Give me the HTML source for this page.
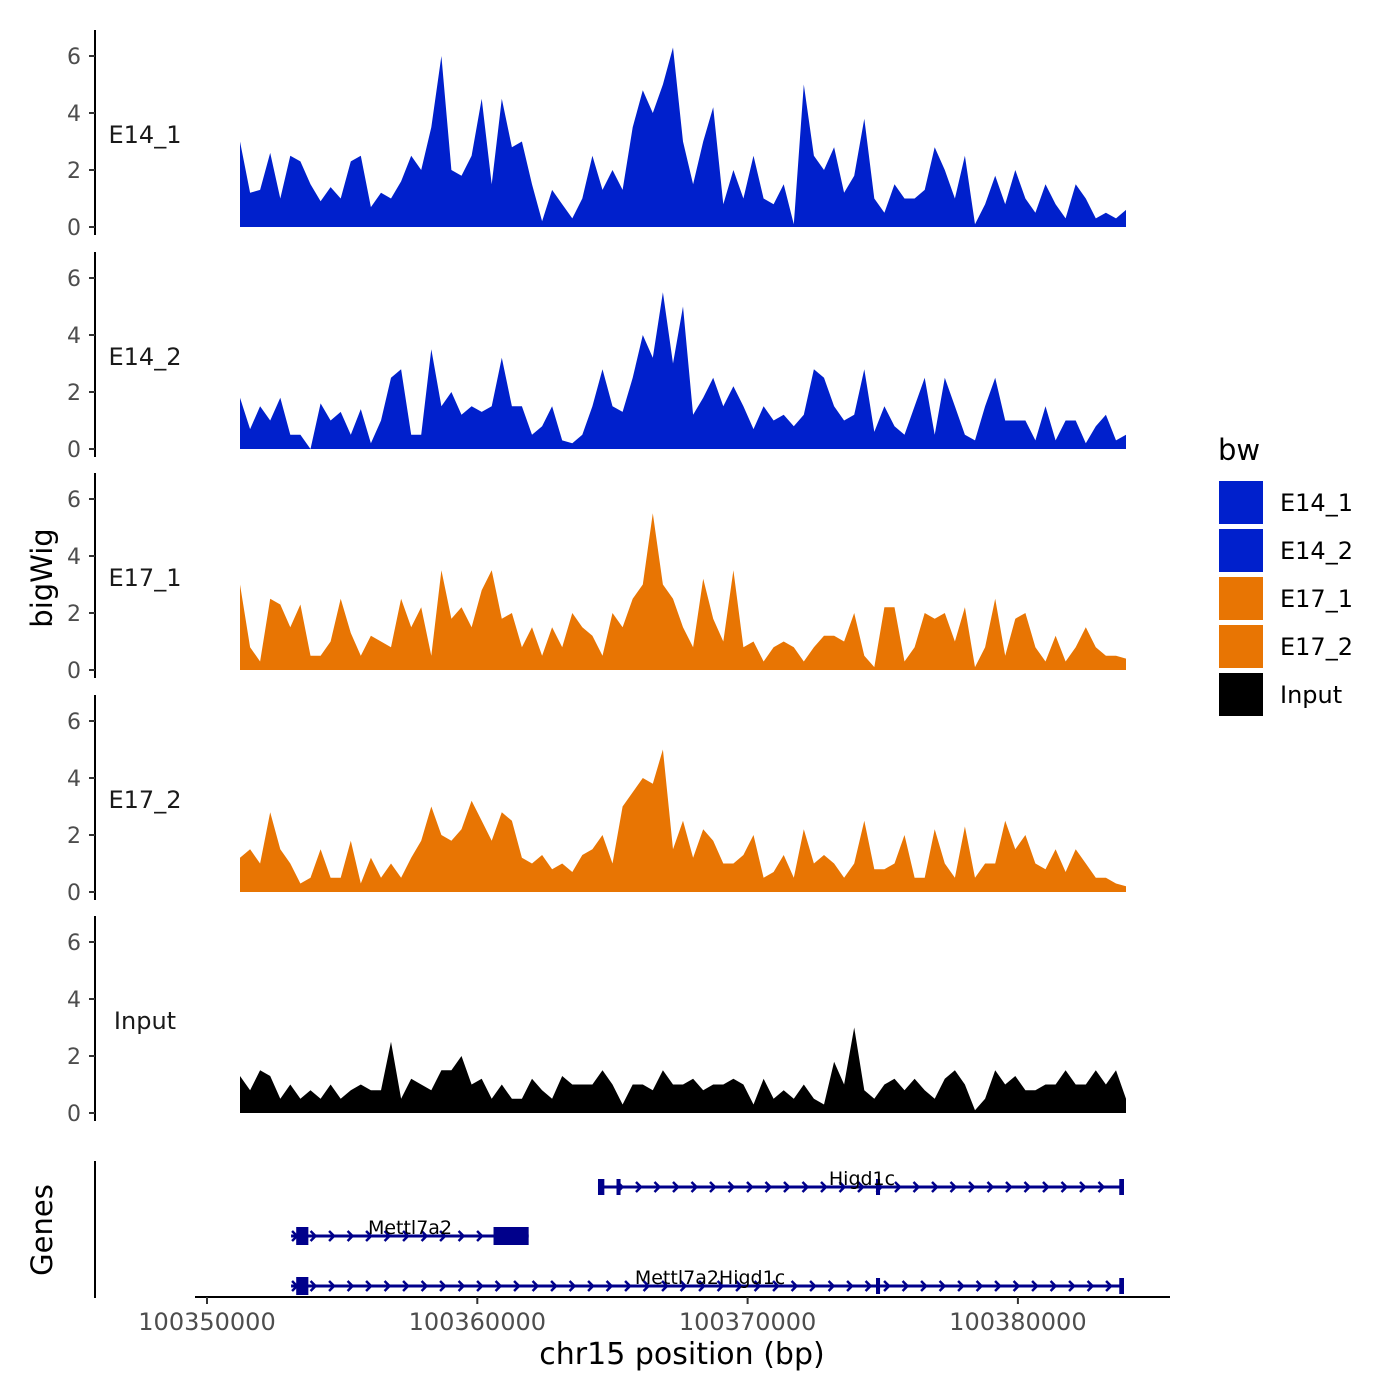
<!DOCTYPE html>
<html><head><meta charset="utf-8"><style>
html,body{margin:0;padding:0;background:#fff}
svg{display:block;font-family:"DejaVu Sans","Liberation Sans",sans-serif}
</style></head><body>
<svg id="c" width="1400" height="1400" viewBox="0 0 1400 1400" xmlns="http://www.w3.org/2000/svg"></svg>
<script>
const binStart = 100351221;
const binSize = 372.5;
const trackNames = ["E14_1","E14_2","E17_1","E17_2","Input"];
const yTicks = [0,2,4,6];
const xTicks = [100350000,100360000,100370000,100380000];
const xTickLabels = ["100350000","100360000","100370000","100380000"];
const legendLabels = ["E14_1","E14_2","E17_1","E17_2","Input"];
const e14_1 = [3,1.2,1.3,2.6,1.0,2.5,2.3,1.5,0.9,1.4,1.0,2.3,2.5,0.7,1.2,1.0,1.6,2.5,2.0,3.5,6.0,2.0,1.8,2.5,4.5,1.5,4.5,2.8,3.0,1.5,0.2,1.3,0.8,0.3,1.0,2.5,1.3,2.0,1.3,3.5,4.8,4.0,5.0,6.3,3.0,1.5,3.0,4.2,0.8,2.0,1.0,2.5,1.0,0.8,1.5,0.1,5.0,2.5,2.0,2.8,1.2,1.8,3.8,1.0,0.5,1.5,1.0,1.0,1.3,2.8,2.0,1.0,2.5,0.1,0.8,1.8,0.8,2.0,1.0,0.5,1.5,0.8,0.3,1.5,1.0,0.3,0.5,0.3,0.6];
const e14_2 = [1.8,0.7,1.5,1.0,1.8,0.5,0.5,0.0,1.6,1.0,1.3,0.5,1.4,0.2,1.0,2.5,2.8,0.5,0.5,3.5,1.5,2.0,1.2,1.5,1.3,1.5,3.2,1.5,1.5,0.5,0.8,1.5,0.3,0.2,0.5,1.5,2.8,1.5,1.3,2.5,4.0,3.2,5.5,3.0,5.0,1.2,1.8,2.5,1.5,2.2,1.5,0.7,1.5,1.0,1.2,0.8,1.2,2.8,2.5,1.5,1.0,1.2,2.8,0.6,1.5,0.8,0.5,1.5,2.5,0.5,2.5,1.5,0.5,0.3,1.5,2.5,1.0,1.0,1.0,0.3,1.5,0.3,1.0,1.0,0.2,0.8,1.2,0.3,0.5];
const e17_1 = [3.0,0.8,0.3,2.5,2.3,1.5,2.3,0.5,0.5,1.0,2.5,1.3,0.5,1.2,1.0,0.8,2.5,1.5,2.2,0.5,3.5,1.8,2.2,1.5,2.8,3.5,1.8,2.0,0.8,1.5,0.5,1.5,0.8,2.0,1.5,1.2,0.5,2.0,1.5,2.5,3.0,5.5,3.0,2.5,1.5,0.8,3.2,1.8,1.0,3.5,0.8,1.0,0.3,0.8,1.0,0.8,0.3,0.8,1.2,1.2,1.0,2.0,0.5,0.1,2.2,2.2,0.3,0.8,2.0,1.8,2.0,1.0,2.2,0.1,0.8,2.5,0.5,1.8,2.0,0.8,0.3,1.2,0.3,0.8,1.5,0.8,0.5,0.5,0.4];
const e17_2 = [1.2,1.5,1.0,2.8,1.5,1.0,0.3,0.5,1.5,0.5,0.5,1.8,0.3,1.2,0.5,1.0,0.5,1.2,1.8,3.0,2.0,1.8,2.2,3.2,2.5,1.8,2.8,2.5,1.2,1.0,1.3,0.8,1.0,0.7,1.3,1.5,2.0,1.0,3.0,3.5,4.0,3.8,5.0,1.5,2.5,1.2,2.2,1.8,1.0,1.0,1.3,2.0,0.5,0.7,1.3,0.5,2.2,1.0,1.3,1.0,0.5,1.0,2.5,0.8,0.8,1.0,2.0,0.5,0.5,2.2,1.0,0.5,2.3,0.5,1.0,1.0,2.5,1.5,2.0,1.0,0.8,1.5,0.7,1.5,1.0,0.5,0.5,0.3,0.2];
const input = [1.3,0.8,1.5,1.3,0.5,1.0,0.5,0.8,0.5,1.0,0.5,0.8,1.0,0.8,0.8,2.5,0.5,1.2,1.0,0.8,1.5,1.5,2.0,1.0,1.2,0.5,1.0,0.5,0.5,1.2,0.8,0.5,1.3,1.0,1.0,1.0,1.5,1.0,0.3,1.0,1.0,0.8,1.5,1.0,1.0,1.2,0.8,1.0,1.0,1.2,1.0,0.3,1.2,0.5,0.8,0.5,1.0,0.5,0.3,1.8,1.0,3.0,0.8,0.5,1.0,1.2,0.8,1.2,0.8,0.5,1.2,1.5,1.0,0.1,0.5,1.5,1.0,1.3,0.8,0.8,1.0,1.0,1.5,1.0,1.0,1.5,1.0,1.5,0.5];
const trackValues = [e14_1,e14_2,e17_1,e17_2,input];
const geneNames = ["Higd1c","Mettl7a2","Mettl7a2Higd1c"];
const geneStart = [100364465,100353110,100353110];
const geneEnd = [100383925,100361900,100383925];
const geneExons = [[[100364465,100364700],[100365150,100365300],[100374750,100374900],[100383750,100383925]],
  [[100353300,100353750],[100360600,100361900]],
  [[100353300,100353750],[100374750,100374900],[100383750,100383925]]];

const NS="http://www.w3.org/2000/svg";
const svg=document.getElementById('c');
function el(t,a,p){const e=document.createElementNS(NS,t);for(const k in a)e.setAttribute(k,a[k]);(p||svg).appendChild(e);return e;}
const xS=v=>207+(v-100350000)/1000*27.03;
const colors=["#0020cc","#0020cc","#e87503","#e87503","#000000"];
const zeroY=[227,449,670,892,1113];
const yUnit=28.5;

trackNames.forEach((nm,i)=>{
  const g=el('g',{});
  
  
  const y0=zeroY[i];
  const ys=v=>y0-v*yUnit;
  const vals=trackValues[i];
  let d='M'+xS(binStart)+','+y0;
  vals.forEach((v,j)=>{d+=' L'+xS(binStart+j*binSize).toFixed(1)+','+ys(v).toFixed(1);});
  d+=' L'+xS(binStart+(vals.length-1)*binSize).toFixed(1)+','+y0+' Z';
  const a=el('path',{d:d,fill:colors[i]},g);
  
  
  const ax=el('line',{x1:95,x2:95,y1:y0-197,y2:y0+8,stroke:'#000','stroke-width':2},g);
  
  
  yTicks.forEach(t=>{
    el('line',{x1:89,x2:95,y1:ys(t),y2:ys(t),stroke:'#333','stroke-width':2},g);
    const tx=el('text',{x:81,y:ys(t)+8,'text-anchor':'end','font-size':22,fill:'#4d4d4d'},g);
    tx.textContent=t;
    
    
  });
  const lb=el('text',{x:145,y:y0-84,'text-anchor':'middle','font-size':24,fill:'#1a1a1a'},g);
  lb.textContent=nm;
  
  
});

const yt=el('text',{x:52,y:578,'text-anchor':'middle','font-size':29,fill:'#000',transform:'rotate(-90 52 578)'});
yt.textContent='bigWig';



const gp=el('g',{});


el('line',{x1:95,x2:95,y1:1161,y2:1298,stroke:'#000','stroke-width':2},gp);
el('line',{x1:195,x2:1170,y1:1297,y2:1297,stroke:'#000','stroke-width':2},gp);
xTicks.forEach((t,i)=>{
  el('line',{x1:xS(t),x2:xS(t),y1:1297,y2:1304,stroke:'#333','stroke-width':2},gp);
  const tx=el('text',{x:xS(t),y:1330,'text-anchor':'middle','font-size':24,fill:'#4d4d4d'},gp);
  tx.textContent=xTickLabels[i];
  
  
});
const gt=el('text',{x:52,y:1230,'text-anchor':'middle','font-size':29,fill:'#000',transform:'rotate(-90 52 1230)'});
gt.textContent='Genes';


const xt=el('text',{x:682,y:1364,'text-anchor':'middle','font-size':30,fill:'#000'});
xt.textContent='chr15 position (bp)';



const geneY=[1187,1236,1286];
const labelX=[862,410,710];
geneNames.forEach((nm,i)=>{
  const g=el('g',{},gp);
  
  
  const y=geneY[i],x1=xS(geneStart[i]),x2=xS(geneEnd[i]);
  el('line',{x1:x1,x2:x2,y1:y,y2:y,stroke:'#00008b','stroke-width':3},g);
  for(let x=x1+4;x<x2-6;x+=18.5){
    el('polyline',{points:(x-3)+','+(y-5)+' '+(x+2)+','+y+' '+(x-3)+','+(y+5),fill:'none',stroke:'#00008b','stroke-width':2.5},g);
  }
  geneExons[i].forEach(ex=>{
    const a=xS(ex[0]),b=xS(ex[1]);
    const w=Math.max(b-a,3);
    const big=w>8;
    el('rect',{x:a,y:y-(big?9:8),width:w,height:big?18:16,fill:'#00008b'},g);
  });
  const lb=el('text',{x:labelX[i],y:y-2,'text-anchor':'middle','font-size':19,fill:'#000'},g);
  lb.textContent=nm;
  
  
});

const lg=el('g',{});


const lt=el('text',{x:1218,y:460,'font-size':29,fill:'#000'},lg);
lt.textContent='bw';
legendLabels.forEach((nm,i)=>{
  const e=el('g',{},lg);
  
  
  el('rect',{x:1219,y:481+i*48,width:44,height:43,fill:colors[i]},e);
  const t=el('text',{x:1280,y:511+i*48,'font-size':24,fill:'#000'},e);
  t.textContent=nm;
});
</script>
</body></html>
